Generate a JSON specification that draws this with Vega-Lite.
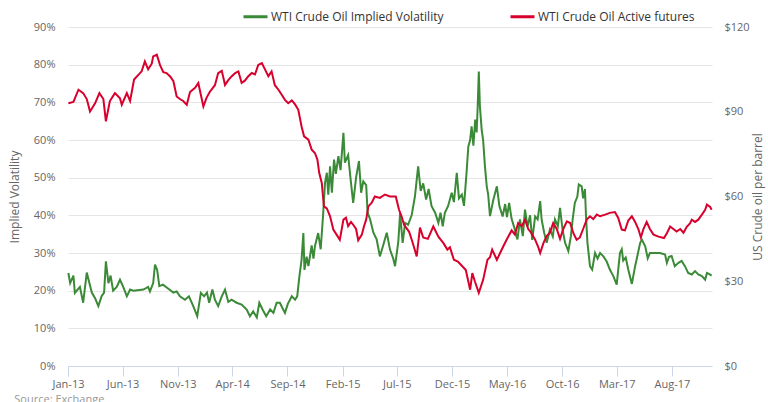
{
  "$schema": "https://vega.github.io/schema/vega-lite/v6.json",
  "width": 644,
  "height": 339,
  "autosize": {"type": "none"},
  "padding": {"left": 68, "top": 27, "right": 56, "bottom": 36},
  "config": {
    "font": "Open Sans",
    "view": {"stroke": null},
    "axis": {"labelFont": "Open Sans", "titleFont": "Open Sans", "labelColor": "#666666", "titleColor": "#666666", "titleFontWeight": "normal", "labelFontSize": 11, "titleFontSize": 12}
  },
  "title": {"text": "Source: Exchange", "orient": "bottom", "anchor": "start", "fontSize": 11, "color": "#999999", "fontWeight": "normal", "font": "Open Sans", "dx": 6, "offset": 5},
  "datasets": {
    "vol": [
      {"d": "2013-01-02", "v": 24.7}, {"d": "2013-01-07", "v": 22.0}, {"d": "2013-01-16", "v": 24.0}, {"d": "2013-01-20", "v": 19.4},
      {"d": "2013-02-03", "v": 21.0}, {"d": "2013-02-12", "v": 16.8}, {"d": "2013-02-22", "v": 24.8}, {"d": "2013-02-28", "v": 22.5},
      {"d": "2013-03-08", "v": 19.5}, {"d": "2013-03-17", "v": 18.0}, {"d": "2013-03-26", "v": 15.9}, {"d": "2013-04-04", "v": 18.5},
      {"d": "2013-04-11", "v": 19.5}, {"d": "2013-04-16", "v": 27.8}, {"d": "2013-04-23", "v": 22.0}, {"d": "2013-04-29", "v": 24.0},
      {"d": "2013-05-06", "v": 20.0}, {"d": "2013-05-16", "v": 21.0}, {"d": "2013-05-25", "v": 22.9}, {"d": "2013-06-03", "v": 21.0},
      {"d": "2013-06-13", "v": 18.5}, {"d": "2013-06-22", "v": 20.3}, {"d": "2013-07-01", "v": 20.0}, {"d": "2013-07-29", "v": 20.3},
      {"d": "2013-08-11", "v": 21.0}, {"d": "2013-08-16", "v": 19.8}, {"d": "2013-08-25", "v": 22.0}, {"d": "2013-08-30", "v": 26.9},
      {"d": "2013-09-05", "v": 25.5}, {"d": "2013-09-11", "v": 21.2}, {"d": "2013-09-21", "v": 21.6}, {"d": "2013-10-06", "v": 20.5},
      {"d": "2013-10-20", "v": 19.5}, {"d": "2013-10-29", "v": 19.8}, {"d": "2013-11-07", "v": 18.5}, {"d": "2013-11-21", "v": 17.6},
      {"d": "2013-12-02", "v": 18.5}, {"d": "2013-12-14", "v": 15.9}, {"d": "2013-12-25", "v": 13.2}, {"d": "2014-01-04", "v": 19.4},
      {"d": "2014-01-13", "v": 18.5}, {"d": "2014-01-21", "v": 19.5}, {"d": "2014-01-27", "v": 16.8}, {"d": "2014-02-05", "v": 20.3},
      {"d": "2014-02-12", "v": 17.6}, {"d": "2014-02-21", "v": 15.9}, {"d": "2014-03-03", "v": 18.5}, {"d": "2014-03-12", "v": 20.3},
      {"d": "2014-03-21", "v": 17.0}, {"d": "2014-03-30", "v": 17.6}, {"d": "2014-04-13", "v": 16.8}, {"d": "2014-04-27", "v": 16.3},
      {"d": "2014-05-11", "v": 15.0}, {"d": "2014-05-20", "v": 13.2}, {"d": "2014-05-29", "v": 14.5}, {"d": "2014-06-08", "v": 12.9},
      {"d": "2014-06-15", "v": 16.8}, {"d": "2014-06-24", "v": 15.0}, {"d": "2014-07-04", "v": 13.2}, {"d": "2014-07-15", "v": 15.0},
      {"d": "2014-07-24", "v": 14.1}, {"d": "2014-08-02", "v": 16.8}, {"d": "2014-08-11", "v": 16.8}, {"d": "2014-08-20", "v": 15.0},
      {"d": "2014-08-25", "v": 14.1}, {"d": "2014-09-02", "v": 16.5}, {"d": "2014-09-13", "v": 18.5}, {"d": "2014-09-22", "v": 17.6},
      {"d": "2014-09-28", "v": 18.5}, {"d": "2014-10-04", "v": 23.8}, {"d": "2014-10-10", "v": 28.2}, {"d": "2014-10-15", "v": 35.3},
      {"d": "2014-10-18", "v": 25.5}, {"d": "2014-10-24", "v": 29.0}, {"d": "2014-10-29", "v": 26.5}, {"d": "2014-11-07", "v": 32.0},
      {"d": "2014-11-12", "v": 28.5}, {"d": "2014-11-16", "v": 31.8}, {"d": "2014-11-25", "v": 35.3}, {"d": "2014-12-02", "v": 31.0},
      {"d": "2014-12-09", "v": 40.6}, {"d": "2014-12-14", "v": 48.6}, {"d": "2014-12-19", "v": 51.3}, {"d": "2014-12-23", "v": 45.5},
      {"d": "2014-12-28", "v": 53.0}, {"d": "2015-01-02", "v": 46.0}, {"d": "2015-01-08", "v": 54.8}, {"d": "2015-01-13", "v": 51.0},
      {"d": "2015-01-20", "v": 55.7}, {"d": "2015-01-26", "v": 52.0}, {"d": "2015-02-03", "v": 61.9}, {"d": "2015-02-07", "v": 54.0},
      {"d": "2015-02-16", "v": 56.0}, {"d": "2015-02-23", "v": 49.5}, {"d": "2015-03-02", "v": 43.3}, {"d": "2015-03-10", "v": 50.0},
      {"d": "2015-03-18", "v": 54.4}, {"d": "2015-03-24", "v": 46.0}, {"d": "2015-03-30", "v": 49.0}, {"d": "2015-04-07", "v": 48.0},
      {"d": "2015-04-11", "v": 40.7}, {"d": "2015-04-18", "v": 38.9}, {"d": "2015-04-27", "v": 35.4}, {"d": "2015-05-06", "v": 33.6},
      {"d": "2015-05-15", "v": 29.1}, {"d": "2015-05-24", "v": 32.0}, {"d": "2015-06-03", "v": 35.4}, {"d": "2015-06-12", "v": 30.9},
      {"d": "2015-06-21", "v": 28.5}, {"d": "2015-06-26", "v": 26.5}, {"d": "2015-07-05", "v": 33.0}, {"d": "2015-07-10", "v": 40.6},
      {"d": "2015-07-17", "v": 32.7}, {"d": "2015-07-24", "v": 38.0}, {"d": "2015-08-01", "v": 37.5}, {"d": "2015-08-11", "v": 40.0},
      {"d": "2015-08-20", "v": 45.0}, {"d": "2015-08-29", "v": 53.0}, {"d": "2015-09-05", "v": 46.5}, {"d": "2015-09-12", "v": 48.5},
      {"d": "2015-09-20", "v": 44.2}, {"d": "2015-09-27", "v": 47.0}, {"d": "2015-10-05", "v": 42.5}, {"d": "2015-10-15", "v": 40.7},
      {"d": "2015-10-24", "v": 38.0}, {"d": "2015-10-30", "v": 40.7}, {"d": "2015-11-05", "v": 37.1}, {"d": "2015-11-11", "v": 40.7},
      {"d": "2015-11-20", "v": 42.5}, {"d": "2015-11-30", "v": 46.0}, {"d": "2015-12-06", "v": 43.5}, {"d": "2015-12-14", "v": 51.3},
      {"d": "2015-12-20", "v": 44.5}, {"d": "2015-12-28", "v": 45.5}, {"d": "2016-01-03", "v": 42.5}, {"d": "2016-01-10", "v": 51.3},
      {"d": "2016-01-15", "v": 58.3}, {"d": "2016-01-20", "v": 60.0}, {"d": "2016-01-24", "v": 63.6}, {"d": "2016-01-29", "v": 58.5},
      {"d": "2016-02-03", "v": 65.4}, {"d": "2016-02-07", "v": 62.0}, {"d": "2016-02-10", "v": 69.0}, {"d": "2016-02-13", "v": 78.2},
      {"d": "2016-02-16", "v": 69.0}, {"d": "2016-02-21", "v": 62.7}, {"d": "2016-02-25", "v": 60.0}, {"d": "2016-03-01", "v": 53.0},
      {"d": "2016-03-06", "v": 47.7}, {"d": "2016-03-10", "v": 45.5}, {"d": "2016-03-15", "v": 39.8}, {"d": "2016-03-24", "v": 44.0},
      {"d": "2016-04-03", "v": 47.7}, {"d": "2016-04-10", "v": 42.5}, {"d": "2016-04-19", "v": 39.7}, {"d": "2016-04-26", "v": 43.0},
      {"d": "2016-05-01", "v": 39.5}, {"d": "2016-05-07", "v": 43.3}, {"d": "2016-05-14", "v": 39.0}, {"d": "2016-05-23", "v": 36.2},
      {"d": "2016-05-30", "v": 33.6}, {"d": "2016-06-06", "v": 38.9}, {"d": "2016-06-14", "v": 34.5}, {"d": "2016-06-20", "v": 41.5},
      {"d": "2016-06-27", "v": 37.0}, {"d": "2016-07-04", "v": 40.0}, {"d": "2016-07-10", "v": 33.5}, {"d": "2016-07-18", "v": 39.7},
      {"d": "2016-07-25", "v": 38.9}, {"d": "2016-08-01", "v": 43.8}, {"d": "2016-08-05", "v": 38.9}, {"d": "2016-08-12", "v": 35.4},
      {"d": "2016-08-19", "v": 32.7}, {"d": "2016-08-28", "v": 36.2}, {"d": "2016-09-05", "v": 34.4}, {"d": "2016-09-11", "v": 38.9},
      {"d": "2016-09-19", "v": 37.1}, {"d": "2016-09-25", "v": 42.0}, {"d": "2016-10-02", "v": 36.2}, {"d": "2016-10-09", "v": 32.7},
      {"d": "2016-10-18", "v": 30.5}, {"d": "2016-10-25", "v": 34.4}, {"d": "2016-10-30", "v": 38.9}, {"d": "2016-11-05", "v": 43.3},
      {"d": "2016-11-12", "v": 45.0}, {"d": "2016-11-16", "v": 48.2}, {"d": "2016-11-24", "v": 47.7}, {"d": "2016-11-28", "v": 44.5},
      {"d": "2016-12-03", "v": 47.0}, {"d": "2016-12-06", "v": 39.7}, {"d": "2016-12-10", "v": 32.7}, {"d": "2016-12-17", "v": 26.5},
      {"d": "2016-12-23", "v": 25.6}, {"d": "2016-12-31", "v": 30.0}, {"d": "2017-01-07", "v": 28.5}, {"d": "2017-01-14", "v": 30.0},
      {"d": "2017-01-23", "v": 29.1}, {"d": "2017-02-01", "v": 27.8}, {"d": "2017-02-10", "v": 25.6}, {"d": "2017-02-20", "v": 23.8},
      {"d": "2017-03-01", "v": 21.6}, {"d": "2017-03-10", "v": 30.0}, {"d": "2017-03-15", "v": 31.0}, {"d": "2017-03-19", "v": 28.0},
      {"d": "2017-03-26", "v": 28.8}, {"d": "2017-04-02", "v": 25.6}, {"d": "2017-04-12", "v": 21.8}, {"d": "2017-04-21", "v": 26.5},
      {"d": "2017-04-25", "v": 28.2}, {"d": "2017-05-05", "v": 32.7}, {"d": "2017-05-10", "v": 33.5}, {"d": "2017-05-19", "v": 31.8},
      {"d": "2017-05-26", "v": 28.6}, {"d": "2017-06-01", "v": 30.0}, {"d": "2017-06-15", "v": 30.0}, {"d": "2017-06-29", "v": 30.0},
      {"d": "2017-07-13", "v": 29.6}, {"d": "2017-07-18", "v": 27.4}, {"d": "2017-07-24", "v": 29.0}, {"d": "2017-07-31", "v": 29.2},
      {"d": "2017-08-09", "v": 26.5}, {"d": "2017-08-19", "v": 27.4}, {"d": "2017-08-28", "v": 27.9}, {"d": "2017-09-06", "v": 26.5},
      {"d": "2017-09-15", "v": 24.7}, {"d": "2017-09-25", "v": 24.3}, {"d": "2017-10-04", "v": 25.2}, {"d": "2017-10-13", "v": 24.3},
      {"d": "2017-10-23", "v": 23.9}, {"d": "2017-11-01", "v": 22.9}, {"d": "2017-11-06", "v": 24.7}, {"d": "2017-11-14", "v": 24.3},
      {"d": "2017-11-19", "v": 24.0}
    ],
    "oil": [
      {"d": "2013-01-02", "p": 93.0}, {"d": "2013-01-16", "p": 93.5}, {"d": "2013-01-30", "p": 97.8}, {"d": "2013-02-12", "p": 96.6},
      {"d": "2013-02-22", "p": 94.5}, {"d": "2013-03-03", "p": 90.1}, {"d": "2013-03-17", "p": 93.0}, {"d": "2013-03-29", "p": 96.6},
      {"d": "2013-04-09", "p": 94.5}, {"d": "2013-04-16", "p": 86.6}, {"d": "2013-04-27", "p": 93.8}, {"d": "2013-05-11", "p": 96.6},
      {"d": "2013-05-25", "p": 94.8}, {"d": "2013-05-30", "p": 92.5}, {"d": "2013-06-13", "p": 96.6}, {"d": "2013-06-22", "p": 93.8},
      {"d": "2013-07-03", "p": 101.4}, {"d": "2013-07-24", "p": 104.3}, {"d": "2013-08-02", "p": 107.8}, {"d": "2013-08-11", "p": 105.0},
      {"d": "2013-08-21", "p": 107.0}, {"d": "2013-08-25", "p": 109.6}, {"d": "2013-09-04", "p": 110.2}, {"d": "2013-09-13", "p": 106.5},
      {"d": "2013-09-22", "p": 104.0}, {"d": "2013-10-01", "p": 103.7}, {"d": "2013-10-11", "p": 102.5}, {"d": "2013-10-20", "p": 100.8},
      {"d": "2013-10-29", "p": 95.4}, {"d": "2013-11-07", "p": 94.5}, {"d": "2013-11-16", "p": 93.8}, {"d": "2013-11-26", "p": 92.5},
      {"d": "2013-12-05", "p": 97.0}, {"d": "2013-12-19", "p": 98.5}, {"d": "2013-12-28", "p": 100.2}, {"d": "2014-01-04", "p": 96.0},
      {"d": "2014-01-11", "p": 91.9}, {"d": "2014-01-20", "p": 95.0}, {"d": "2014-01-29", "p": 97.1}, {"d": "2014-02-12", "p": 99.4},
      {"d": "2014-02-21", "p": 103.7}, {"d": "2014-03-03", "p": 104.5}, {"d": "2014-03-12", "p": 99.5}, {"d": "2014-03-21", "p": 101.2},
      {"d": "2014-03-30", "p": 102.5}, {"d": "2014-04-09", "p": 103.7}, {"d": "2014-04-18", "p": 104.3}, {"d": "2014-04-27", "p": 100.2},
      {"d": "2014-05-06", "p": 101.0}, {"d": "2014-05-15", "p": 102.5}, {"d": "2014-05-25", "p": 103.7}, {"d": "2014-06-03", "p": 103.2},
      {"d": "2014-06-12", "p": 106.6}, {"d": "2014-06-22", "p": 107.2}, {"d": "2014-07-01", "p": 104.9}, {"d": "2014-07-10", "p": 102.6},
      {"d": "2014-07-19", "p": 104.3}, {"d": "2014-07-28", "p": 99.4}, {"d": "2014-08-07", "p": 97.8}, {"d": "2014-08-16", "p": 96.0},
      {"d": "2014-08-25", "p": 94.2}, {"d": "2014-09-03", "p": 93.0}, {"d": "2014-09-13", "p": 94.0}, {"d": "2014-09-22", "p": 92.6},
      {"d": "2014-10-01", "p": 90.7}, {"d": "2014-10-10", "p": 84.8}, {"d": "2014-10-17", "p": 81.3}, {"d": "2014-10-29", "p": 80.1},
      {"d": "2014-11-07", "p": 76.6}, {"d": "2014-11-16", "p": 75.4}, {"d": "2014-11-23", "p": 73.0}, {"d": "2014-11-28", "p": 68.3},
      {"d": "2014-12-05", "p": 64.8}, {"d": "2014-12-11", "p": 56.5}, {"d": "2014-12-19", "p": 55.8}, {"d": "2014-12-28", "p": 53.0},
      {"d": "2015-01-06", "p": 48.3}, {"d": "2015-01-15", "p": 46.5}, {"d": "2015-01-24", "p": 44.7}, {"d": "2015-02-03", "p": 51.8},
      {"d": "2015-02-10", "p": 52.5}, {"d": "2015-02-16", "p": 49.5}, {"d": "2015-02-24", "p": 51.0}, {"d": "2015-03-02", "p": 50.0},
      {"d": "2015-03-10", "p": 48.5}, {"d": "2015-03-16", "p": 44.5}, {"d": "2015-03-26", "p": 46.5}, {"d": "2015-04-01", "p": 49.5},
      {"d": "2015-04-07", "p": 51.8}, {"d": "2015-04-13", "p": 56.5}, {"d": "2015-04-22", "p": 57.7}, {"d": "2015-05-01", "p": 60.0},
      {"d": "2015-05-15", "p": 59.5}, {"d": "2015-05-29", "p": 60.7}, {"d": "2015-06-12", "p": 60.0}, {"d": "2015-06-28", "p": 60.0},
      {"d": "2015-07-07", "p": 55.3}, {"d": "2015-07-14", "p": 53.0}, {"d": "2015-07-21", "p": 50.0}, {"d": "2015-08-04", "p": 47.5},
      {"d": "2015-08-13", "p": 44.0}, {"d": "2015-08-25", "p": 38.8}, {"d": "2015-09-03", "p": 49.0}, {"d": "2015-09-12", "p": 45.5},
      {"d": "2015-09-25", "p": 45.0}, {"d": "2015-10-10", "p": 49.4}, {"d": "2015-10-24", "p": 45.8}, {"d": "2015-11-07", "p": 43.5},
      {"d": "2015-11-18", "p": 41.2}, {"d": "2015-11-25", "p": 42.0}, {"d": "2015-12-06", "p": 37.6}, {"d": "2015-12-17", "p": 37.0},
      {"d": "2015-12-28", "p": 35.5}, {"d": "2016-01-08", "p": 34.0}, {"d": "2016-01-20", "p": 27.0}, {"d": "2016-01-26", "p": 32.9},
      {"d": "2016-02-02", "p": 30.0}, {"d": "2016-02-13", "p": 25.9}, {"d": "2016-02-25", "p": 30.5}, {"d": "2016-03-08", "p": 37.6},
      {"d": "2016-03-15", "p": 38.5}, {"d": "2016-03-21", "p": 41.2}, {"d": "2016-04-03", "p": 37.6}, {"d": "2016-04-12", "p": 40.0},
      {"d": "2016-04-21", "p": 42.4}, {"d": "2016-04-30", "p": 44.7}, {"d": "2016-05-14", "p": 48.0}, {"d": "2016-05-23", "p": 46.5},
      {"d": "2016-06-01", "p": 50.6}, {"d": "2016-06-11", "p": 49.5}, {"d": "2016-06-20", "p": 51.8}, {"d": "2016-06-29", "p": 48.5},
      {"d": "2016-07-08", "p": 47.0}, {"d": "2016-07-18", "p": 44.7}, {"d": "2016-07-27", "p": 42.0}, {"d": "2016-08-01", "p": 40.0},
      {"d": "2016-08-10", "p": 43.5}, {"d": "2016-08-19", "p": 46.0}, {"d": "2016-08-28", "p": 47.2}, {"d": "2016-09-06", "p": 50.6},
      {"d": "2016-09-16", "p": 48.5}, {"d": "2016-09-25", "p": 45.0}, {"d": "2016-10-04", "p": 48.5}, {"d": "2016-10-14", "p": 51.2},
      {"d": "2016-10-23", "p": 50.6}, {"d": "2016-11-01", "p": 47.0}, {"d": "2016-11-10", "p": 44.7}, {"d": "2016-11-19", "p": 45.5},
      {"d": "2016-11-28", "p": 48.5}, {"d": "2016-12-08", "p": 51.8}, {"d": "2016-12-17", "p": 53.0}, {"d": "2016-12-26", "p": 52.0},
      {"d": "2017-01-05", "p": 53.6}, {"d": "2017-01-14", "p": 53.0}, {"d": "2017-01-28", "p": 53.6}, {"d": "2017-02-10", "p": 54.2},
      {"d": "2017-02-24", "p": 54.5}, {"d": "2017-03-05", "p": 52.5}, {"d": "2017-03-15", "p": 48.3}, {"d": "2017-03-24", "p": 48.0},
      {"d": "2017-04-02", "p": 51.5}, {"d": "2017-04-12", "p": 53.0}, {"d": "2017-04-21", "p": 51.0}, {"d": "2017-04-30", "p": 48.5},
      {"d": "2017-05-07", "p": 45.5}, {"d": "2017-05-14", "p": 48.5}, {"d": "2017-05-23", "p": 51.0}, {"d": "2017-06-01", "p": 48.5},
      {"d": "2017-06-11", "p": 46.5}, {"d": "2017-06-25", "p": 45.8}, {"d": "2017-07-10", "p": 45.3}, {"d": "2017-07-18", "p": 47.0},
      {"d": "2017-07-27", "p": 49.4}, {"d": "2017-08-05", "p": 48.5}, {"d": "2017-08-14", "p": 47.6}, {"d": "2017-08-24", "p": 48.5},
      {"d": "2017-09-02", "p": 47.2}, {"d": "2017-09-11", "p": 49.3}, {"d": "2017-09-20", "p": 50.5}, {"d": "2017-09-25", "p": 51.8},
      {"d": "2017-10-04", "p": 51.0}, {"d": "2017-10-13", "p": 51.8}, {"d": "2017-10-23", "p": 53.6}, {"d": "2017-11-01", "p": 55.3},
      {"d": "2017-11-06", "p": 57.1}, {"d": "2017-11-15", "p": 56.3}, {"d": "2017-11-19", "p": 55.3}
    ]
  },
  "encoding": {
    "x": {
      "field": "d", "type": "temporal",
      "scale": {"type": "utc", "domain": [{"year": 2013, "month": 1, "date": 1, "utc": true}, {"year": 2017, "month": 11, "date": 20, "utc": true}]},
      "axis": {
        "title": null, "labelExpr": "utcFormat(datum.value, '%b-%y')",
        "values": [
          {"year": 2013, "month": 1, "date": 1, "utc": true}, {"year": 2013, "month": 6, "date": 1, "utc": true},
          {"year": 2013, "month": 11, "date": 1, "utc": true}, {"year": 2014, "month": 4, "date": 1, "utc": true},
          {"year": 2014, "month": 9, "date": 1, "utc": true}, {"year": 2015, "month": 2, "date": 1, "utc": true},
          {"year": 2015, "month": 7, "date": 1, "utc": true}, {"year": 2015, "month": 12, "date": 1, "utc": true},
          {"year": 2016, "month": 5, "date": 1, "utc": true}, {"year": 2016, "month": 10, "date": 1, "utc": true},
          {"year": 2017, "month": 3, "date": 1, "utc": true}, {"year": 2017, "month": 8, "date": 1, "utc": true}
        ],
        "grid": false, "domainColor": "#ccd6eb", "tickColor": "#ccd6eb", "tickSize": 10,
        "labelPadding": 2, "labelFontSize": 11, "labelColor": "#666666", "labelFlush": false, "labelOverlap": false
      }
    }
  },
  "layer": [
    {
      "data": {"name": "vol"},
      "mark": {"type": "line", "strokeWidth": 2, "interpolate": "linear"},
      "encoding": {
        "y": {
          "field": "v", "type": "quantitative",
          "scale": {"domain": [0, 90], "nice": false, "zero": true},
          "axis": {
            "orient": "left", "title": "Implied Volatility", "values": [0, 10, 20, 30, 40, 50, 60, 70, 80, 90],
            "labelExpr": "datum.value + '%'", "grid": true, "gridColor": "#e6e6e6", "domain": false, "ticks": false,
            "labelPadding": 13, "titlePadding": 12
          }
        },
        "color": {
          "datum": "WTI Crude Oil Implied Volatility", "type": "nominal",
          "scale": {"domain": ["WTI Crude Oil Implied Volatility", "WTI Crude Oil Active futures"], "range": ["#3b8a37", "#d8002c"]},
          "legend": {
            "title": null, "orient": "none", "direction": "horizontal", "legendX": 174, "legendY": -24,
            "symbolType": "stroke", "symbolSize": 576, "symbolStrokeWidth": 3, "labelOffset": 2,
            "columnPadding": 60, "labelFontSize": 12, "labelColor": "#333333", "labelFont": "Open Sans", "labelLimit": 400, "padding": 0
          }
        }
      }
    },
    {
      "data": {"name": "oil"},
      "mark": {"type": "line", "strokeWidth": 2, "interpolate": "linear"},
      "encoding": {
        "y": {
          "field": "p", "type": "quantitative",
          "scale": {"domain": [0, 120], "nice": false, "zero": true},
          "axis": {
            "orient": "right", "title": "US Crude oil per barrel", "values": [0, 30, 60, 90, 120],
            "labelExpr": "'$' + datum.value", "grid": false, "domain": false, "ticks": false,
            "labelPadding": 12, "titlePadding": 3, "titleAngle": 270, "titleBaseline": "top"
          }
        },
        "color": {"datum": "WTI Crude Oil Active futures", "type": "nominal"}
      }
    }
  ],
  "resolve": {"scale": {"y": "independent"}}
}
